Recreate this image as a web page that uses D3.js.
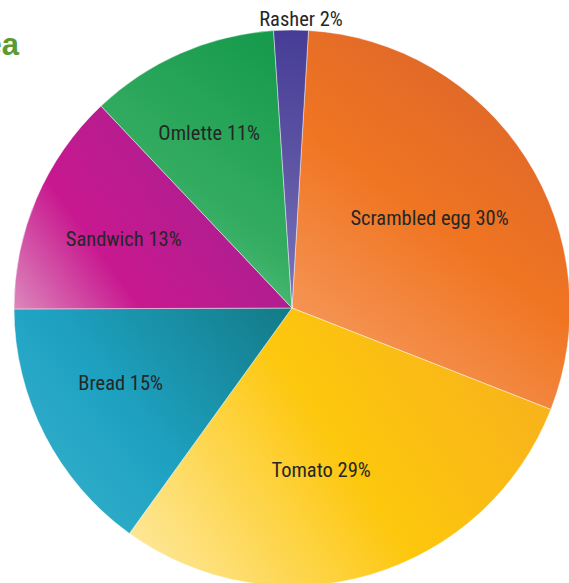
<!DOCTYPE html>
<html>
<head>
<meta charset="utf-8">
<script src="https://cdn.jsdelivr.net/npm/d3@7"></script>
<style>
  html, body { margin: 0; padding: 0; background: #fff; }
  svg { display: block; }
</style>
</head>
<body>
<svg id="chart" width="569" height="583"></svg>
<script>
// ---- data ----
const categories = ["Scrambled egg", "Tomato", "Bread", "Sandwich", "Omlette", "Rasher"];
const values = [30, 29, 15, 13, 11, 2];
const titleText = "Idea";

// ---- styling ----
const gradientColors = {
  "Scrambled egg": ["#f7a46e", "#f07522", "#d5602d"],
  "Tomato": ["#fdeba8", "#fdc70d", "#f6ad1f"],
  "Bread": ["#3bb4cd", "#1ea2c2", "#137a86"],
  "Sandwich": ["#dc88bc", "#c8188f", "#9a248f"],
  "Omlette": ["#7ad2a2", "#35ad62", "#13984a"],
  "Rasher": ["#7e78bb", "#5e55a5", "#463c96"]
};
const gradientMid = {
  "Scrambled egg": 0.5, "Tomato": 0.5, "Bread": 0.45,
  "Sandwich": 0.3, "Omlette": 0.42, "Rasher": 0.5
};
const labelNudge = {
  "Scrambled egg": [-3, 0],
  "Tomato": [-18, 2],
  "Bread": [-23, -1],
  "Sandwich": [-15, -3],
  "Omlette": [-16, -22]
};

const W = 569, H = 583;
const cx = 292, cy = 308, R = 278;
const startA = 3.4 * Math.PI / 180;

const svg = d3.select("#chart");
const defs = svg.append("defs");

// partially visible title at top-left
svg.append("text")
  .attr("x", 19).attr("y", 55)
  .attr("text-anchor", "end")
  .attr("font-family", "'Liberation Sans', Arial, sans-serif")
  .attr("font-weight", "bold")
  .attr("font-size", 31)
  .attr("fill", "#5b9b31")
  .text(titleText);

const data = categories.map((c, i) => ({ name: c, value: values[i] }));
const pie = d3.pie().value(d => d.value).sort(null)
  .startAngle(startA).endAngle(startA + 2 * Math.PI);
const arcs = pie(data);
const arc = d3.arc().innerRadius(0).outerRadius(R);
const labelArc = d3.arc().innerRadius(0).outerRadius(R * 1.2);

const g = svg.append("g").attr("transform", `translate(${cx},${cy})`);

const paths = g.selectAll("path.slice").data(arcs).join("path")
  .attr("class", "slice")
  .attr("d", arc);

paths.each(function(d, i) {
  const bb = this.getBBox();
  const cols = gradientColors[d.data.name];
  const mid = gradientMid[d.data.name];
  const grad = defs.append("linearGradient")
    .attr("id", "grad" + i)
    .attr("gradientUnits", "userSpaceOnUse")
    .attr("x1", bb.x).attr("y1", bb.y + bb.height)
    .attr("x2", bb.x + bb.width).attr("y2", bb.y);
  grad.append("stop").attr("offset", 0).attr("stop-color", cols[0]);
  grad.append("stop").attr("offset", mid).attr("stop-color", cols[1]);
  grad.append("stop").attr("offset", 1).attr("stop-color", cols[2]);
});

paths.attr("fill", (d, i) => `url(#grad${i})`)
  .attr("stroke", "rgba(255,255,255,0.55)")
  .attr("stroke-width", 0.8);

// labels
const fontFam = "'Liberation Sans Narrow', 'Roboto Condensed', 'Arial Narrow', sans-serif";
g.selectAll("text.lbl").data(arcs).join("text")
  .attr("class", "lbl")
  .attr("font-family", fontFam)
  .attr("font-size", 20.5)
  .attr("fill", "#262626")
  .attr("text-anchor", "middle")
  .attr("dominant-baseline", "central")
  .attr("transform", d => {
    const name = d.data.name;
    if (name === "Rasher") {
      const a = (d.startAngle + d.endAngle) / 2;
      const r = R + 11;
      return `translate(${r * Math.sin(a) + 10},${-r * Math.cos(a)})`;
    }
    const [x, y] = labelArc.centroid(d);
    const n = labelNudge[name] || [0, 0];
    return `translate(${x + n[0]},${y + n[1]})`;
  })
  .text(d => `${d.data.name} ${d.data.value}%`);
</script>
</body>
</html>
